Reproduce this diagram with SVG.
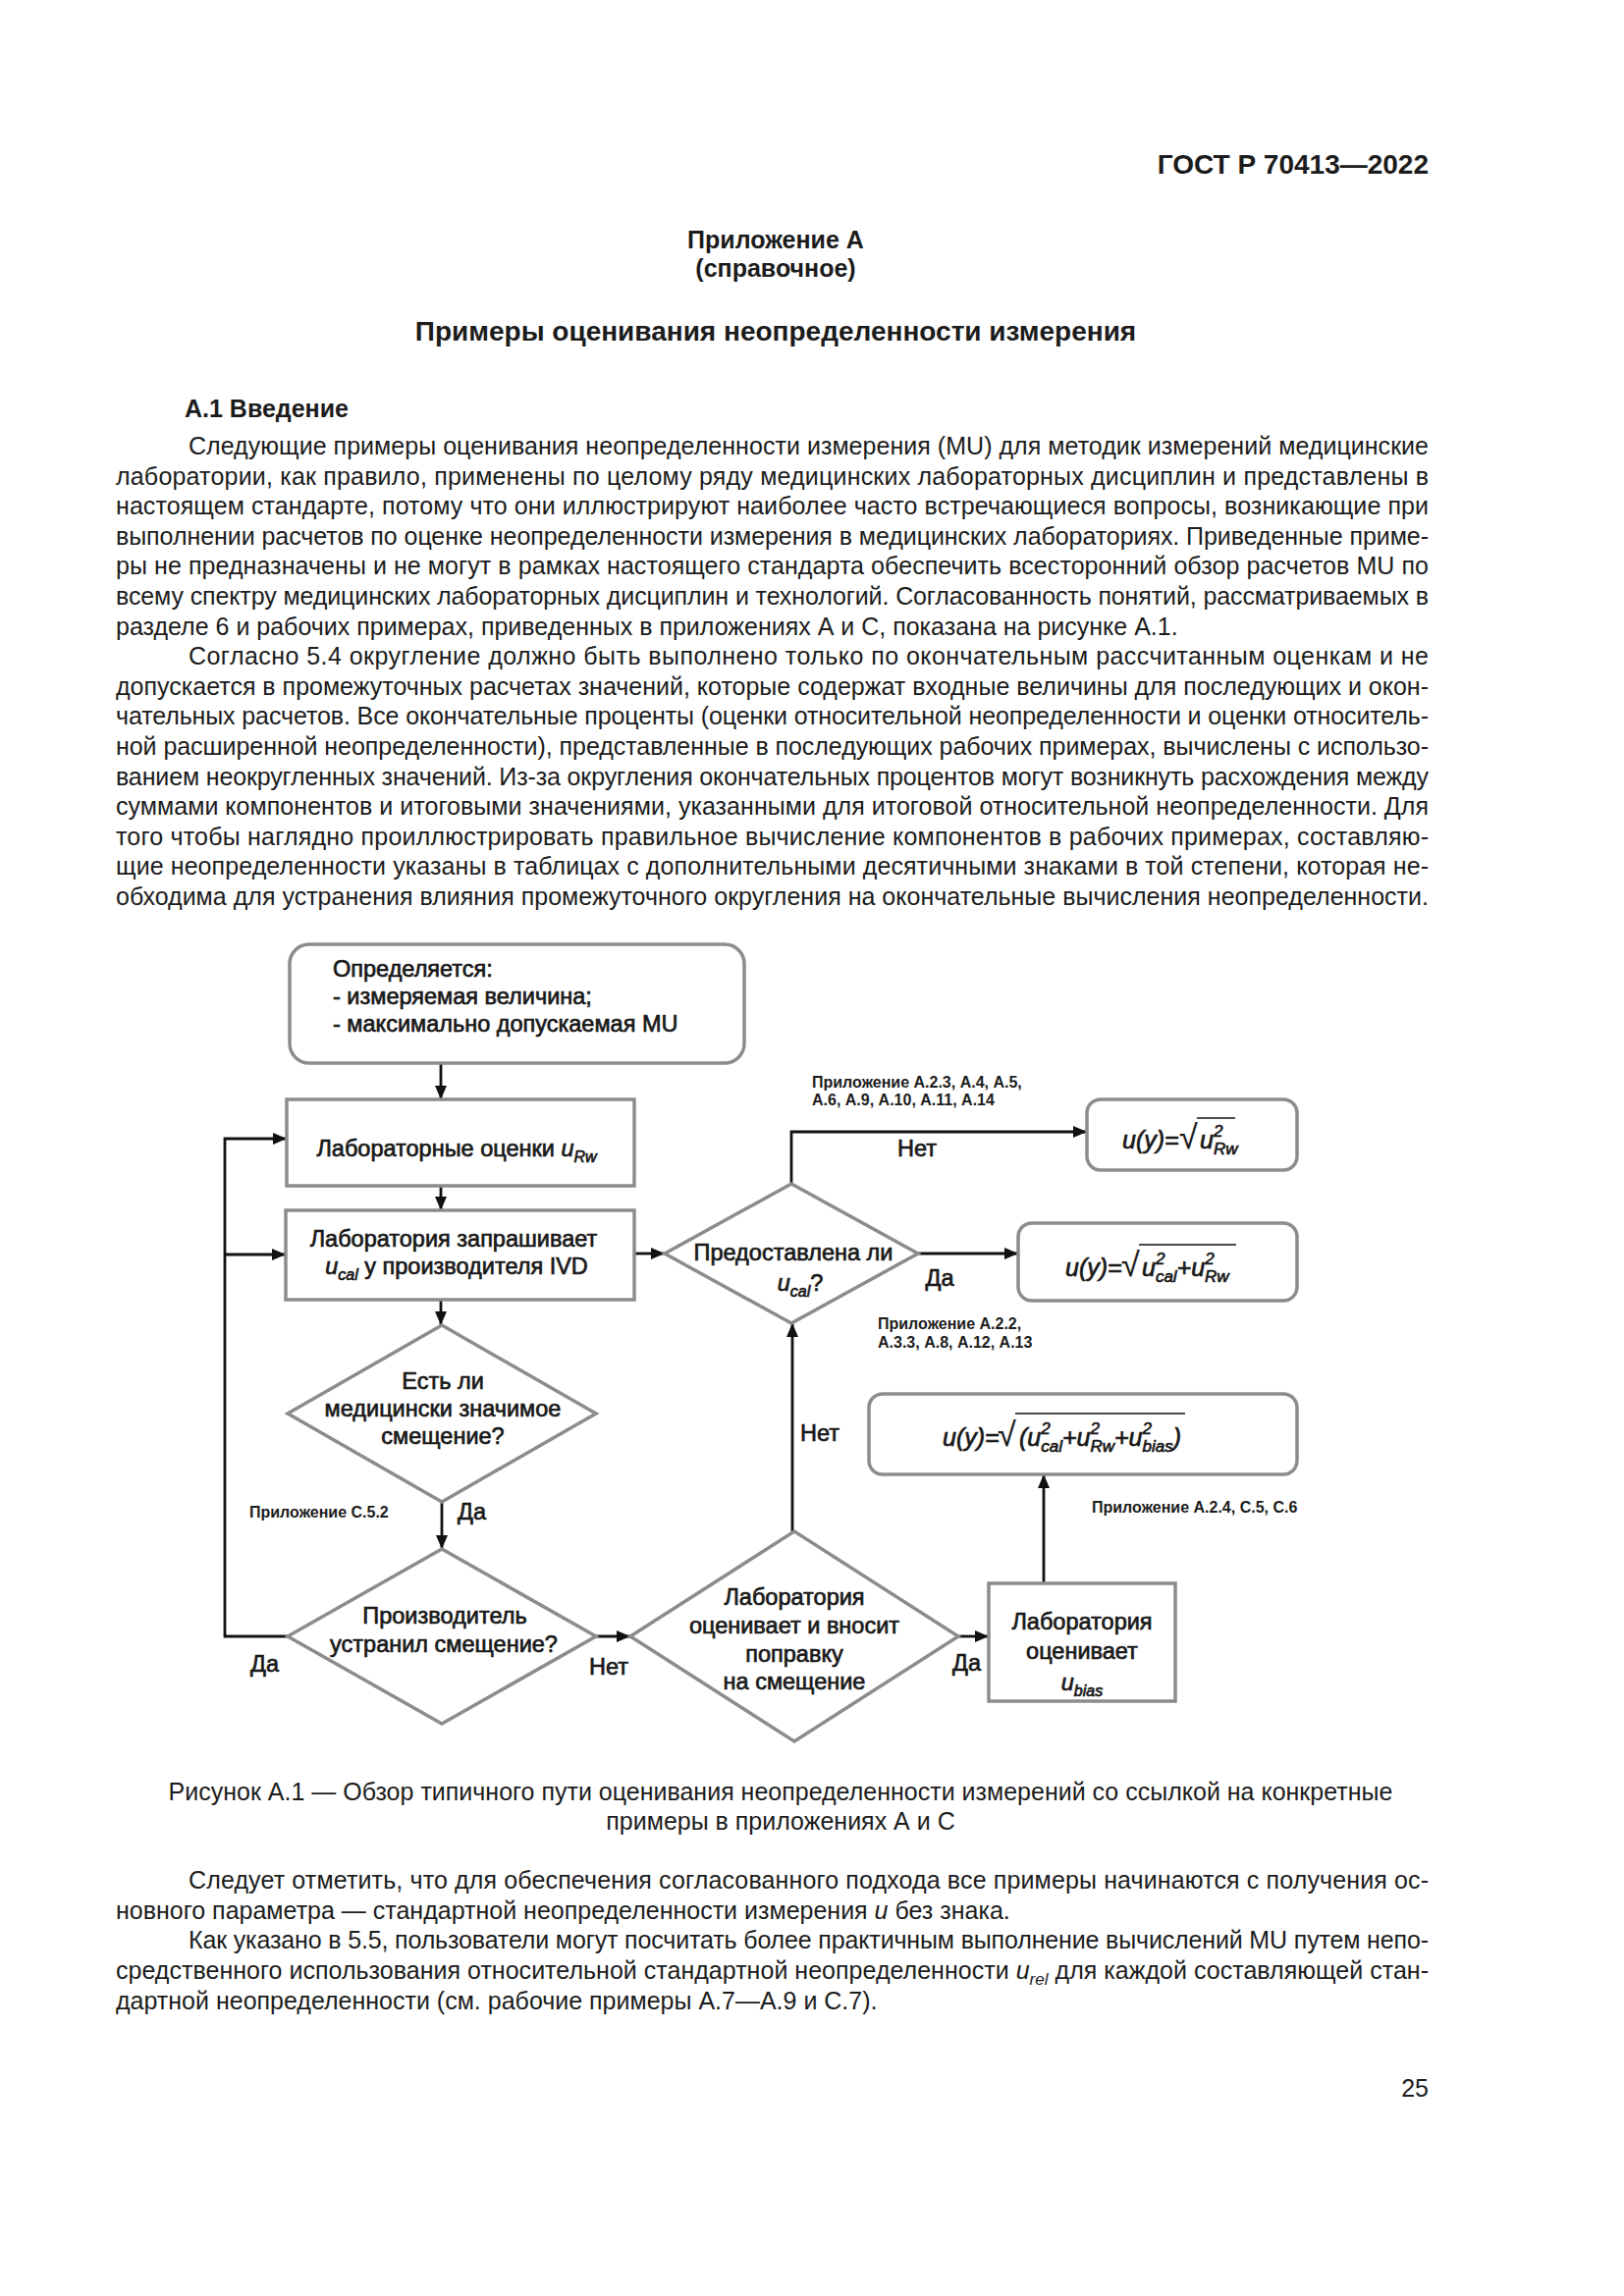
<svg xmlns="http://www.w3.org/2000/svg" width="1654" height="2339" viewBox="0 0 1654 2339">
<defs>
<style>
text{font-family:"Liberation Sans",Arial,sans-serif;fill:#1c1c1c}
.body{font-size:25px}
.b{font-weight:bold}
.fc{font-size:23.5px;fill:#111;stroke:#111;stroke-width:0.65}
.lbl{font-size:16px;font-weight:bold;fill:#111}
.i{font-style:italic}
.node{fill:#fff;stroke:#8c8c8c;stroke-width:3.5}
.conn{fill:none;stroke:#111;stroke-width:2.8}
.ov{stroke:#111;stroke-width:1.6}
</style>
<marker id="ah" markerUnits="userSpaceOnUse" markerWidth="14" markerHeight="12" refX="14" refY="6" orient="auto">
<path d="M0,0 L14,6 L0,12 Z" fill="#111"/>
</marker>
</defs>
<rect width="1654" height="2339" fill="#fff"/>

<g id="page-text" class="body">
<text x="1455" y="177" text-anchor="end" class="b" font-size="28">ГОСТ Р 70413—2022</text>
<text x="790" y="253" text-anchor="middle" class="b">Приложение А</text>
<text x="790" y="282" text-anchor="middle" class="b">(справочное)</text>
<text x="790" y="347" text-anchor="middle" class="b" font-size="28">Примеры оценивания неопределенности измерения</text>
<text x="188" y="425" class="b">А.1 Введение</text>
<text x="192" y="463" textLength="1263" lengthAdjust="spacing">Следующие примеры оценивания неопределенности измерения (MU) для методик измерений медицинские</text>
<text x="118" y="493.6" textLength="1337" lengthAdjust="spacing">лаборатории, как правило, применены по целому ряду медицинских лабораторных дисциплин и представлены в</text>
<text x="118" y="524.2" textLength="1337" lengthAdjust="spacing">настоящем стандарте, потому что они иллюстрируют наиболее часто встречающиеся вопросы, возникающие при</text>
<text x="118" y="554.8" textLength="1337" lengthAdjust="spacing">выполнении расчетов по оценке неопределенности измерения в медицинских лабораториях. Приведенные приме-</text>
<text x="118" y="585.4" textLength="1337" lengthAdjust="spacing">ры не предназначены и не могут в рамках настоящего стандарта обеспечить всесторонний обзор расчетов MU по</text>
<text x="118" y="616" textLength="1337" lengthAdjust="spacing">всему спектру медицинских лабораторных дисциплин и технологий. Согласованность понятий, рассматриваемых в</text>
<text x="118" y="646.6">разделе 6 и рабочих примерах, приведенных в приложениях А и С, показана на рисунке А.1.</text>
<text x="192" y="677.2" textLength="1263" lengthAdjust="spacing">Согласно 5.4 округление должно быть выполнено только по окончательным рассчитанным оценкам и не</text>
<text x="118" y="707.8" textLength="1337" lengthAdjust="spacing">допускается в промежуточных расчетах значений, которые содержат входные величины для последующих и окон-</text>
<text x="118" y="738.4" textLength="1337" lengthAdjust="spacing">чательных расчетов. Все окончательные проценты (оценки относительной неопределенности и оценки относитель-</text>
<text x="118" y="769" textLength="1337" lengthAdjust="spacing">ной расширенной неопределенности), представленные в последующих рабочих примерах, вычислены с использо-</text>
<text x="118" y="799.6" textLength="1337" lengthAdjust="spacing">ванием неокругленных значений. Из-за округления окончательных процентов могут возникнуть расхождения между</text>
<text x="118" y="830.2" textLength="1337" lengthAdjust="spacing">суммами компонентов и итоговыми значениями, указанными для итоговой относительной неопределенности. Для</text>
<text x="118" y="860.8" textLength="1337" lengthAdjust="spacing">того чтобы наглядно проиллюстрировать правильное вычисление компонентов в рабочих примерах, составляю-</text>
<text x="118" y="891.4" textLength="1337" lengthAdjust="spacing">щие неопределенности указаны в таблицах с дополнительными десятичными знаками в той степени, которая не-</text>
<text x="118" y="922" textLength="1337" lengthAdjust="spacing">обходима для устранения влияния промежуточного округления на окончательные вычисления неопределенности.</text>

<text x="795" y="1834" text-anchor="middle">Рисунок А.1 — Обзор типичного пути оценивания неопределенности измерений со ссылкой на конкретные</text>
<text x="795" y="1864" text-anchor="middle">примеры в приложениях А и С</text>

<text x="192" y="1924" textLength="1263" lengthAdjust="spacing">Следует отметить, что для обеспечения согласованного подхода все примеры начинаются с получения ос-</text>
<text x="118" y="1955">новного параметра — стандартной неопределенности измерения <tspan class="i">u</tspan> без знака.</text>
<text x="192" y="1985" textLength="1263" lengthAdjust="spacing">Как указано в 5.5, пользователи могут посчитать более практичным выполнение вычислений MU путем непо-</text>
<text x="118" y="2016" textLength="1337" lengthAdjust="spacing">средственного использования относительной стандартной неопределенности <tspan class="i">u</tspan><tspan class="i" font-size="17" dy="6">rel</tspan><tspan dy="-6"> для каждой составляющей стан-</tspan></text>
<text x="118" y="2047">дартной неопределенности (см. рабочие примеры А.7—А.9 и С.7).</text>
<text x="1455" y="2136" text-anchor="end">25</text>
</g>

<g id="connectors">
<path class="conn" d="M449,1083 V1120" marker-end="url(#ah)"/>
<path class="conn" d="M449,1208 V1233" marker-end="url(#ah)"/>
<path class="conn" d="M646,1277 H677" marker-end="url(#ah)"/>
<path class="conn" d="M449,1324 V1350" marker-end="url(#ah)"/>
<path class="conn" d="M450,1530 V1578" marker-end="url(#ah)"/>
<path class="conn" d="M607,1667 H642" marker-end="url(#ah)"/>
<path class="conn" d="M976,1667 H1007" marker-end="url(#ah)"/>
<path class="conn" d="M1063,1613 V1502" marker-end="url(#ah)"/>
<path class="conn" d="M807,1560 V1348" marker-end="url(#ah)"/>
<path class="conn" d="M806,1206 V1153 H1107" marker-end="url(#ah)"/>
<path class="conn" d="M935,1277 H1037" marker-end="url(#ah)"/>
<path class="conn" d="M293,1667 H229 V1160 H292" marker-end="url(#ah)"/>
<path class="conn" d="M229,1278 H291" marker-end="url(#ah)"/>
<g class="fc">
<text x="934" y="1178" text-anchor="middle">Нет</text>
<text x="957" y="1310" text-anchor="middle">Да</text>
<text x="815" y="1468">Нет</text>
<text x="466" y="1548">Да</text>
<text x="255" y="1703">Да</text>
<text x="600" y="1706">Нет</text>
<text x="970" y="1702">Да</text>
</g>
<g class="lbl">
<text x="827" y="1108">Приложение А.2.3, А.4, А.5,</text>
<text x="827" y="1126">А.6, А.9, А.10, А.11, А.14</text>
<text x="894" y="1354">Приложение А.2.2,</text>
<text x="894" y="1373">А.3.3, А.8, А.12, А.13</text>
<text x="254" y="1546">Приложение С.5.2</text>
<text x="1112" y="1541">Приложение А.2.4, С.5, С.6</text>
</g>
</g>

<g id="start" class="fc">
<rect class="node" x="295" y="962" width="463" height="121" rx="20"/>
<text x="339" y="995">Определяется:</text>
<text x="339" y="1023">- измеряемая величина;</text>
<text x="339" y="1051">- максимально допускаемая MU</text>
</g>

<g id="lab-urw" class="fc">
<rect class="node" x="292" y="1120" width="354" height="88"/>
<text x="465" y="1178" text-anchor="middle">Лабораторные оценки <tspan class="i">u</tspan><tspan class="i" font-size="16" dy="6">Rw</tspan></text>
</g>

<g id="lab-request" class="fc">
<rect class="node" x="291" y="1233" width="355" height="91"/>
<text x="462" y="1270" text-anchor="middle">Лаборатория запрашивает</text>
<text x="465" y="1298" text-anchor="middle"><tspan class="i">u</tspan><tspan class="i" font-size="16" dy="6">cal</tspan><tspan dy="-6"> у производителя IVD</tspan></text>
</g>

<g id="q-ucal" class="fc">
<polygon class="node" points="677,1277 806,1206 935,1277 806,1348"/>
<text x="808" y="1284" text-anchor="middle">Предоставлена ли</text>
<text x="815" y="1315" text-anchor="middle"><tspan class="i">u</tspan><tspan class="i" font-size="16" dy="6">cal</tspan><tspan dy="-6">?</tspan></text>
</g>

<g id="q-bias" class="fc">
<polygon class="node" points="293,1440 450,1350 607,1440 450,1530"/>
<text x="451" y="1415" text-anchor="middle">Есть ли</text>
<text x="451" y="1443" text-anchor="middle">медицински значимое</text>
<text x="451" y="1471" text-anchor="middle">смещение?</text>
</g>

<g id="q-manufacturer" class="fc">
<polygon class="node" points="293,1667 450,1578 607,1667 450,1756"/>
<text x="453" y="1654" text-anchor="middle">Производитель</text>
<text x="452" y="1683" text-anchor="middle">устранил смещение?</text>
</g>

<g id="lab-correct" class="fc">
<polygon class="node" points="642,1667 809,1560 976,1667 809,1774"/>
<text x="809" y="1635" text-anchor="middle">Лаборатория</text>
<text x="809" y="1664" text-anchor="middle">оценивает и вносит</text>
<text x="809" y="1693" text-anchor="middle">поправку</text>
<text x="809" y="1721" text-anchor="middle">на смещение</text>
</g>

<g id="lab-ubias" class="fc">
<rect class="node" x="1007" y="1613" width="190" height="120"/>
<text x="1102" y="1660" text-anchor="middle">Лаборатория</text>
<text x="1102" y="1690" text-anchor="middle">оценивает</text>
<text x="1102" y="1722" text-anchor="middle"><tspan class="i">u</tspan><tspan class="i" font-size="16" dy="6">bias</tspan></text>
</g>

<g id="formula-rw" class="fc">
<rect class="node" x="1107" y="1120" width="214" height="72" rx="14"/>
<text x="1143" y="1170" class="i" font-size="25">u(y)=</text>
<text x="1201" y="1170" font-size="34" stroke-width="0.2">√</text>
<line class="ov" x1="1219" y1="1139" x2="1258" y2="1139"/>
<text x="1222" y="1170" class="i" font-size="25">u<tspan font-size="17" dy="-12">2</tspan><tspan font-size="17" dx="-9.5" dy="18">Rw</tspan></text>
</g>

<g id="formula-cal-rw" class="fc">
<rect class="node" x="1037" y="1246" width="284" height="79" rx="14"/>
<text x="1085" y="1300" class="i" font-size="25">u(y)=</text>
<text x="1142" y="1300" font-size="34" stroke-width="0.2">√</text>
<line class="ov" x1="1160" y1="1268" x2="1259" y2="1268"/>
<text x="1163" y="1300" class="i" font-size="25">u<tspan font-size="17" dy="-12">2</tspan><tspan font-size="17" dx="-9.5" dy="18">cal</tspan><tspan dy="-6">+u</tspan><tspan font-size="17" dy="-12">2</tspan><tspan font-size="17" dx="-9.5" dy="18">Rw</tspan></text>
</g>

<g id="formula-full" class="fc">
<rect class="node" x="885" y="1420" width="436" height="82" rx="14"/>
<text x="960" y="1473" class="i" font-size="25">u(y)=</text>
<text x="1016" y="1473" font-size="34" stroke-width="0.2">√</text>
<line class="ov" x1="1034" y1="1440" x2="1207" y2="1440"/>
<text x="1038" y="1473" class="i" font-size="25">(u<tspan font-size="17" dy="-12">2</tspan><tspan font-size="17" dx="-9.5" dy="18">cal</tspan><tspan dy="-6">+u</tspan><tspan font-size="17" dy="-12">2</tspan><tspan font-size="17" dx="-9.5" dy="18">Rw</tspan><tspan dy="-6">+u</tspan><tspan font-size="17" dy="-12">2</tspan><tspan font-size="17" dx="-9.5" dy="18">bias</tspan><tspan dy="-6">)</tspan></text>
</g>
</svg>
